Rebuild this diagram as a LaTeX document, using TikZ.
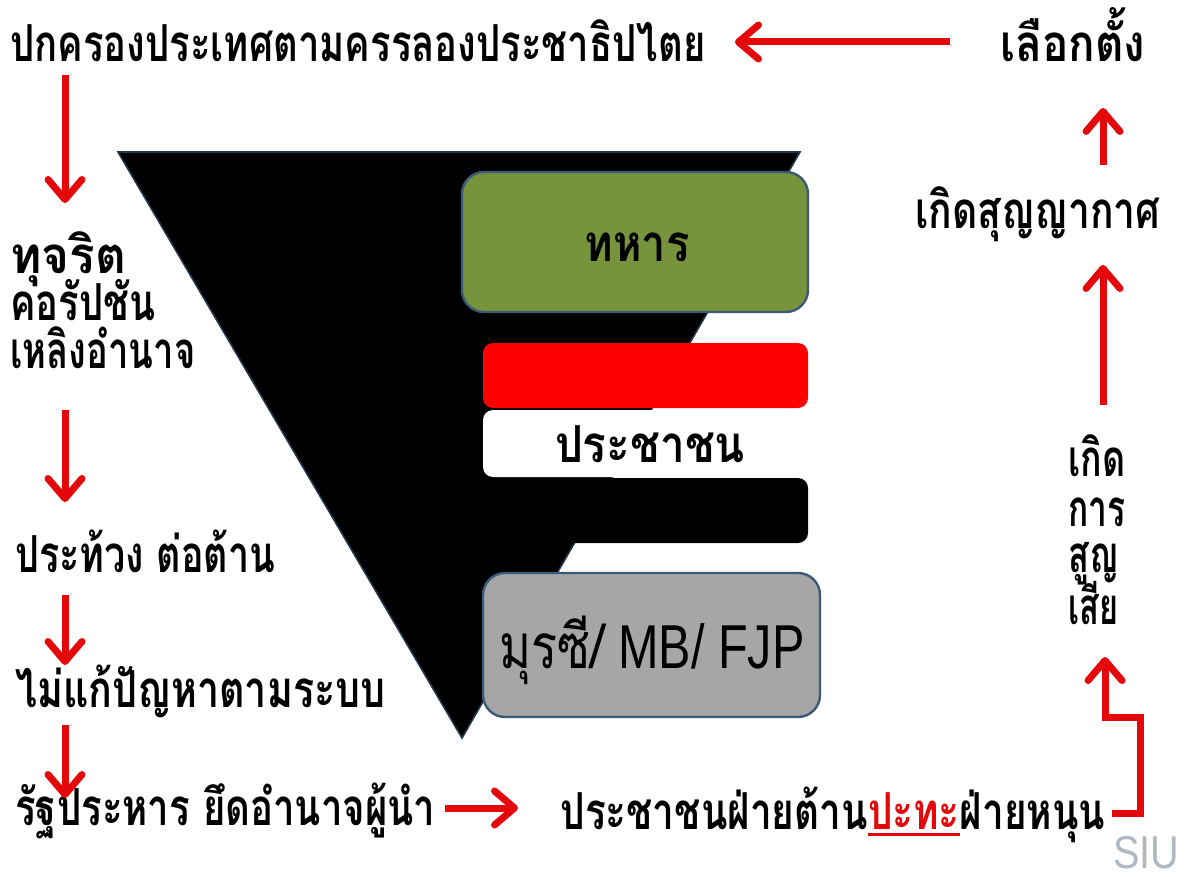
\documentclass[tikz,border=0pt]{standalone}
\usepackage{fontspec}
\usepackage{graphicx}
\usetikzlibrary{arrows.meta}
\setmainfont{Liberation Sans}
\newfontfamily\thaifont[Script=Thai]{Loma}
\definecolor{arrred}{RGB}{228,8,10}
\definecolor{boxgreen}{RGB}{119,147,60}
\definecolor{boxgray}{RGB}{166,166,166}
\definecolor{boxedge}{RGB}{60,90,120}
\definecolor{siugray}{RGB}{178,184,192}
\newcommand\fitw[2]{\resizebox{#1}{\height}{#2}}
\newcommand\myul[1]{\setbox0\hbox{#1}\rlap{\rule[-3.5pt]{\wd0}{1.5pt}}\box0}
\begin{document}
\begin{tikzpicture}[x=0.5pt,y=-0.5pt,
  txt/.style={inner sep=0pt,anchor=base west,font=\thaifont\bfseries\fontsize{25.5}{28}\selectfont},
  ctxt/.style={txt,anchor=base},
  arr/.style={draw=arrred,line width=3.5pt,-{Straight Barb[length=10pt,width=17pt,round]}},
  rbox/.style={rounded corners=#1}]
\useasboundingbox (0,0) rectangle (1188,877);
\fill[white] (0,0) rectangle (1188,877);
% funnel
\filldraw[fill=black,draw=boxedge!60!black,line width=0.8pt] (118,152) -- (800,152) -- (462,738) -- cycle;
\node[rbox=11pt,fill=boxgreen,draw=boxedge,line width=1.2pt,minimum width=173pt,minimum height=70pt,inner sep=0pt] (green) at (635,242) {};
\node[rbox=5pt,fill=red,minimum width=162.5pt,minimum height=32.5pt,inner sep=0pt] (redb) at (645.5,375.5) {};
\node[rbox=5pt,fill=white,minimum width=162.5pt,minimum height=33.5pt,inner sep=0pt] (whiteb) at (645.5,443.5) {};
\node[rbox=5pt,fill=black,minimum width=162.5pt,minimum height=32.5pt,inner sep=0pt] (blackb) at (645.5,510.5) {};
\node[rbox=11pt,fill=boxgray,draw=boxedge,line width=1.2pt,minimum width=168.5pt,minimum height=72pt,inner sep=0pt] (grayb) at (651.5,645) {};
\node[ctxt] (lbl1) at (637,262) {\fitw{52.5pt}{ทหาร}};
\node[ctxt] (lbl2) at (650,462) {\fitw{95pt}{ประชาชน}};
\node[ctxt,font=\fontsize{31}{34}\selectfont] (lbl3) at (652,668) {\fitw{152.5pt}{{\thaifont มุรซี/} MB/ FJP}};
% texts
\node[txt] (t1) at (10,62) {\fitw{347.5pt}{ปกครองประเทศตามครรลองประชาธิปไตย}};
\node[txt] (t2) at (1000,62) {\fitw{72.5pt}{เลือกตั้ง}};
\node[txt] (t3) at (10,273) {\fitw{58pt}{ทุจริต}};
\node[txt] (t3b) at (10,320) {\fitw{72.5pt}{คอรัปชัน}};
\node[txt] (t3c) at (10,368) {\fitw{92.5pt}{เหลิงอำนาจ}};
\node[txt] (t4) at (15,572) {\fitw{130pt}{ประท้วง ต่อต้าน}};
\node[txt] (t5) at (15,707) {\fitw{185pt}{ไม่แก้ปัญหาตามระบบ}};
\node[txt] (t6) at (15,825) {\fitw{210pt}{รัฐประหาร ยึดอำนาจผู้นำ}};
\node[txt] (t7) at (560,829) {\fitw{272.5pt}{ประชาชนฝ่ายต้าน{\color{arrred}\myul{ปะทะ}}ฝ่ายหนุน}};
\node[txt] (t8a) at (1068,476) {\fitw{28.5pt}{เกิด}};
\node[txt] (t8b) at (1068,526) {\fitw{28.5pt}{การ}};
\node[txt] (t8c) at (1068,572) {\fitw{25pt}{สูญ}};
\node[txt] (t8d) at (1068,624) {\fitw{25pt}{เสีย}};
\node[txt] (t9) at (915,228) {\fitw{122.5pt}{เกิดสุญญากาศ}};
\node[inner sep=0pt,anchor=base west,text=siugray,font=\fontsize{23}{23}\selectfont] (siu) at (1113,868) {\fitw{33pt}{SIU}};
% arrow end points
\coordinate (a1s) at (950,42);  \coordinate (a1e) at (735,42);
\coordinate (a2s) at (65,75);   \coordinate (a2e) at (65,203);
\coordinate (a3s) at (65,410);  \coordinate (a3e) at (65,502);
\coordinate (a4s) at (65,595);  \coordinate (a4e) at (65,665);
\coordinate (a5s) at (65,725);  \coordinate (a5e) at (65,798);
\coordinate (a6s) at (445,808); \coordinate (a6e) at (518,808);
\coordinate (a7s) at (1112,813); \coordinate (a7a) at (1140,813);
\coordinate (a7b) at (1140,717); \coordinate (a7c) at (1105,717);
\coordinate (a7e) at (1105,657);
\coordinate (a8s) at (1103,405); \coordinate (a8e) at (1103,265);
\coordinate (a9s) at (1103,165); \coordinate (a9e) at (1103,108);
\draw[arr] (a1s) -- (a1e);
\draw[arr] (a2s) -- (a2e);
\draw[arr] (a3s) -- (a3e);
\draw[arr] (a4s) -- (a4e);
\draw[arr] (a5s) -- (a5e);
\draw[arr] (a6s) -- (a6e);
\draw[arr] (a7s) -- (a7a) -- (a7b) -- (a7c) -- (a7e);
\draw[arr] (a8s) -- (a8e);
\draw[arr] (a9s) -- (a9e);
\end{tikzpicture}
\end{document}
